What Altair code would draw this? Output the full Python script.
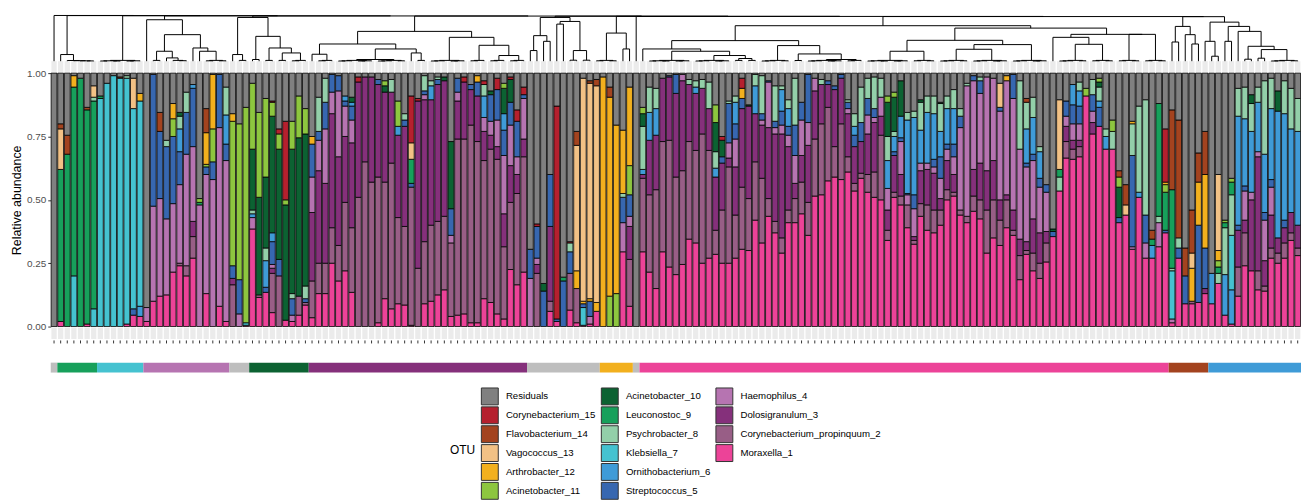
import altair as alt
import pandas as pd

# ---------------- data ----------------
OTUS = ["Moraxella_1", "Corynebacterium_propinquum_2", "Dolosigranulum_3", "Haemophilus_4",
        "Streptococcus_5", "Ornithobacterium_6", "Klebsiella_7", "Psychrobacter_8",
        "Leuconostoc_9", "Acinetobacter_10", "Acinetobacter_11", "Arthrobacter_12",
        "Vagococcus_13", "Flavobacterium_14", "Corynebacterium_15", "Residuals"]
CODES = ["M", "C", "D", "H", "S", "O", "K", "P", "L", "A", "B", "R", "V", "F", "Y"]
COLORS = ["#EC4398", "#985E86", "#85307B", "#B674B1", "#3767B0", "#3F9BD7", "#45C2D0",
          "#93CFA9", "#17A05B", "#0C6232", "#8DC63F", "#F2B01E", "#F2C185", "#A3431F",
          "#B5202E", "#808080"]
CLUSTER_GREY = "#BEBEBE"

# each bar: cumulative top of each OTU, bottom to top (rest = Residuals)
bars_grey_1 = [""]
bars_leuconostoc = ["M.02 L.62 V.78 F.80", "L.68 F.755", "K.20 L.945 R.99", "L.98",
                    "M.01 L.855 F.865", "K.07 L.89 P.905 V.95"]
bars_klebsiella = ["K.90 L.91", "K.96", "K.99", "K.98 F.985", "M.01 K.98 P.99",
                   "M.045 S.07 K.86 V.98", "M.04 O.08 K.89 R.92"]
bars_haemophilus = ["M.02 H.075", "M.10 H.475 S.995", "M.12 H.505 S.77 F.845",
                    "M.125 H.425 S.71 P.735", "M.215 H.485 S.75 B.82 R.88",
                    "M.24 C.25 H.56 S.69 O.78 P.83 A.845", "M.20 C.24 H.68 S.845 P.925",
                    "M.27 C.355 D.415 H.71 S.94 O.955", "H.48 L.49 B.505",
                    "M.13 H.60 S.63 B.64 R.765 F.86", "H.58 S.65 B.78 R.995",
                    "M.08 H.785 S.995", "M.02 H.655 S.72 O.835 P.945"]
bars_grey_2 = ["C.165 D.19 S.24 B.81 R.84", "H.05 S.185 B.80", "M.005 K.015 B.865"]
bars_acinetobacter = ["M.385 H.43 O.445 P.46 A.70 B.96", "M.115 C.125 A.51 B.845",
                      "M.135 S.155 O.26 P.31 A.59 B.90",
                      "M.055 C.21 D.23 H.245 S.335 O.37 A.83 B.885 Y.89",
                      "C.20 S.265 A.70 B.76 Y.78", "M.025 A.48 B.50 Y.81",
                      "M.02 H.045 S.11 P.13 A.70 B.81", "M.045 C.12 A.745 B.91",
                      "M.085 C.095 S.11 P.16 A.76 B.86"]
bars_dolosigranulum = ["M.035 C.18 D.45 H.59 S.72 R.75", "M.13 C.25 D.615 H.735 S.77 P.905",
                       "M.13 C.25 D.565 H.78 S.885 P.98", "M.25 C.39 D.84 H.925 S.995",
                       "M.18 C.32 D.67 H.93 S.99", "M.22 C.49 D.75 H.87 S.89 O.91",
                       "M.135 C.39 D.725 H.815 S.87 O.885 A.905", "C.51 D.965 Y.985",
                       "C.65 D.985", "C.57 D.985", "M.015 C.59 D.955 S.975",
                       "M.11 C.57 D.925 A.95 B.97", "M.07 C.645 D.925 P.975",
                       "M.09 C.43 D.755 O.79 B.89", "M.085 C.395 D.79 S.815 P.84",
                       "M.005 C.55 S.565 L.66 V.725 Y.91", "C.23 D.89 Y.90",
                       "M.09 C.335 D.895 H.915 S.93 P.99", "M.10 C.40 D.895 O.95 P.97",
                       "M.125 C.415 D.955 S.975 P.985", "M.145 C.435 D.97 A.985",
                       "M.04 C.33 H.36 S.465 A.73", "M.045 C.74 D.89 H.925 S.98",
                       "M.05 C.74 D.965 Y.985", "M.015 C.795 D.935 S.955",
                       "M.015 C.73 D.91 S.965 R.99", "M.11 C.655 D.77 H.825 O.91 P.955 Y.97",
                       "M.095 C.70 D.755 H.81 S.915 A.93", "M.05 C.66 D.71 H.815 S.935 Y.98",
                       "M.03 C.315 D.445 H.675 S.775 O.84 A.94 B.96",
                       "M.225 C.49 D.635 H.795 S.885 A.975 Y.985",
                       "M.165 C.525 D.60 H.67 S.81 Y.855", "M.215 C.67 D.74 H.90 S.915 Y.945"]
bars_grey_3 = ["H.19 S.305", "C.21 D.245 H.27 S.395 Y.405", "S.14 A.17", "M.06 C.10 D.395 S.60",
               "M.02 S.03 Y.87", "S.18 L.195", "M.065 C.21 S.295 P.33 Y.335",
               "M.015 C.15 R.22 V.715 F.77", "M.005 K.075 S.09 R.10 V.98",
               "M.01 H.04 S.10 R.11 V.96 F.97", "M.06 R.095 V.95 F.975"]
bars_arthrobacter = ["R.985", "B.12 R.905 F.945", "B.13 R.795", "M.295 H.41 S.51 P.525 R.775",
                     "M.08 C.265 D.395 H.435 S.52 B.635 R.945"]
bars_grey_4 = [""]
bars_moraxella = ["M.295 C.585 D.60 O.62 P.79 A.84 B.865", "M.215 C.52 D.735 O.845 P.945",
                  "M.15 C.54 D.755 O.86 P.94", "M.295 C.73 D.98", "M.235 C.735 D.985 S.99",
                  "M.205 C.59 D.92 S.995", "M.245 C.615 D.97 H.995", "M.345 C.73 D.955 P.975",
                  "M.33 C.695 D.92 O.945 P.97", "M.25 C.76 D.94 P.975", "M.27 C.695 D.86 P.965",
                  "M.285 C.38 D.59 O.625 P.69 A.805 B.875", "M.25 C.46 D.645 S.67 A.735 Y.75",
                  "M.25 C.63 D.665 H.725 S.88 P.89", "M.27 C.44 D.63 H.74 S.80 O.885 P.91",
                  "M.305 C.55 D.86 S.90 R.94 Y.98", "M.30 C.505 D.87 A.875",
                  "M.42 C.65 D.84 O.95 P.995", "M.33 C.585 D.795 H.815 S.84 P.99",
                  "M.435 C.505 D.785 H.965 S.97", "M.37 C.415 D.76 H.785 S.81 P.95",
                  "M.29 C.35 D.76 H.795 S.85 O.935 P.95", "M.41 C.46 D.71 H.755 S.79 O.86 P.895",
                  "M.41 C.505 D.565 H.675 S.795 P.98", "M.445 C.57 D.675 H.815 S.885",
                  "M.36 C.49 D.715 H.805 S.995", "M.515 C.74 D.93 H.98", "M.52 C.80 D.955 P.975",
                  "M.575 C.865 D.955 S.97", "M.59 C.71 D.935 S.95", "M.58 C.80 D.98 S.995",
                  "M.61 C.67 D.84 H.86 S.885 P.895", "M.535 C.565 D.71 S.755 O.79 P.84",
                  "M.585 C.605 D.73 S.805 P.945", "M.53 C.60 D.76 H.835 S.90 P.98",
                  "M.51 C.61 D.805 H.825 S.86 P.985", "M.50 C.755 D.83 H.905 P.98",
                  "M.34 C.38 D.46 H.545 O.655 P.75 A.885 B.91",
                  "M.51 C.53 D.675 S.69 O.75 P.77 A.905 B.925",
                  "M.48 C.515 D.60 H.73 S.745 O.83 A.97", "M.39 C.48 H.52 S.525 O.815 P.845",
                  "M.325 C.34 D.355 H.465 S.52 O.825 P.85",
                  "M.435 C.485 D.615 H.645 O.775 P.885 A.895",
                  "M.38 C.48 D.62 H.645 O.845 P.91", "M.37 C.46 D.605 H.63 S.66 O.84 P.91",
                  "M.40 C.46 D.505 H.585 S.67 O.77 P.88 A.885",
                  "M.50 C.54 D.655 H.70 S.72 O.86 P.91", "M.515 C.53 D.60 H.67 S.72 O.86 P.935",
                  "M.44 C.46 H.785 S.83 P.86", "M.41 C.435 H.95 P.96",
                  "M.455 C.515 D.62 H.97 S.99", "M.425 C.50 D.645 H.92 S.97 P.985",
                  "M.29 C.46 D.615 H.985", "M.35 C.50 D.655 H.98", "M.32 C.42 D.50 H.85 S.865 V.96",
                  "M.39 C.50 D.52 H.97 R.99", "M.36 C.38 D.46 H.90 S.995",
                  "M.185 C.28 D.345 H.70 P.97", "M.285 C.30 D.335 H.63 S.645 O.78 P.885 F.90",
                  "M.22 C.29 D.425 H.655 S.68 O.825 P.905", "M.19 C.25 D.37 H.55 S.585 O.69 P.71",
                  "M.255 C.33 D.375 H.53 S.56", "M.355 S.375 A.385", "M.535 P.59 L.62 V.895",
                  "M.665 C.73 D.79 H.83 S.89", "M.66 C.70 D.735 H.80 S.875 O.955",
                  "M.67 C.71 D.735 H.80 S.87 O.93 P.965", "M.91 B.94",
                  "M.76 D.805 H.85 S.915 P.975", "M.79 S.865 O.89 P.945 A.965 B.98",
                  "M.70 O.75 P.78", "M.70 P.77 B.815", "M.41 S.43 A.55 B.59 F.615",
                  "M.44 V.48 F.56", "M.305 H.315 S.675 P.80 R.81", "M.51 O.53 P.87",
                  "M.27 H.33 S.44 P.895", "M.27 O.32 L.345 F.38", "M.315 H.41 P.435 L.88",
                  "M.37 S.38 L.53 B.56 R.57 Y.78"]
bars_flavobacterium = ["M.015 H.03 K.22 P.23 L.54 F.855", "M.27 S.31 P.35 F.815",
                       "M.09 S.20 F.31", "M.09 C.10 R.23 V.29 F.46", "M.095 S.40 R.57 F.685",
                       "M.13 D.15 S.31 R.60 F.77"]
bars_ornithobacterium = ["M.09 O.21", "M.17 P.21 L.235 B.26 R.30 V.60", "M.045 O.205 P.39 L.41 B.42",
                         "M.01 O.145 K.36 P.52 L.57 B.585", "M.12 C.235 D.38 S.40 O.83 P.94",
                         "M.24 C.37 D.42 H.535 S.555 O.82 P.945", "M.22 D.50 H.53 O.77 P.88 A.915",
                         "M.145 C.22 D.67 H.69 O.885 P.945", "M.14 C.16 D.26 H.42 S.45 O.68 P.97",
                         "M.27 C.31 D.44 H.55 S.58 O.86 P.98", "M.25 C.29 D.35 O.85 A.93",
                         "M.27 C.33 D.39 S.42 O.84 P.97", "M.34 C.37 D.45 O.78 P.94",
                         "M.28 C.31 D.40 O.77 P.90"]

CLUSTERS = [("none", bars_grey_1), ("Leuconostoc_9", bars_leuconostoc),
            ("Klebsiella_7", bars_klebsiella), ("Haemophilus_4", bars_haemophilus),
            ("none", bars_grey_2), ("Acinetobacter_10", bars_acinetobacter),
            ("Dolosigranulum_3", bars_dolosigranulum), ("none", bars_grey_3),
            ("Arthrobacter_12", bars_arthrobacter), ("none", bars_grey_4),
            ("Moraxella_1", bars_moraxella), ("Flavobacterium_14", bars_flavobacterium),
            ("Ornithobacterium_6", bars_ornithobacterium)]

# dendrogram: "(left,right)height", "a-b" = tight group of leaves a..b
dendro_groups = [
    "0",
    "(1,(2,(3,(4,(5,6)0.3)0.4)0.5)0.7)6.7",
    "7-13",
    "(14,(((15,16)0.8,(17,(18,(19,20)0.5)0.8)3.3)10,(21,(22,23-26)10)13.3)26.7)41.7",
    "((27,(28,29)0.8)6.7,((30,31)1.7,((32,33)0.8,((34,35)0.8,36-38)8.3)13.3)25)44",
    "(((39,40-42)7,((43-48,49-53)1.7,(54,(55,56)0.8)8.3)12.3)17.3,"
    "(57-62,(63-65,(66-68,69-71)5.7)16)24)30",
    "(((72,73)10.7,(74,75)20)25.7,((76,77)37.3,((78,79)1,(80,81)1)10.7)40)44",
    "(82-85,(86,87)12.3)28.3",
    "88",
    "(((89,(90-96,(97-102,((103,104)0.8,(105,106)0.8)2.7)5.7)10)12.3,"
    "(107-111,((112,113)0.7,(114-119,120-122)1.7)7.3)15.7)20.7,"
    "(((123-129,130-133)10,((134-138,139-144)12,145-150)16.7)21,"
    "((151,(152-156,157-160)17)24,(161-164,165-168)27)27)33.3)35.7",
    "((169,170)19.3,(171,(172,173)17.3)26.7)35",
    "((174,(175,176)5)20,((177,178)20,(179,((180,181)2,((182,183)3,184-188)11.7)15)30)35)39.3",
]
dendro_join_heights = [46.0, 45.88, 45.76, 45.64, 45.52, 45.4, 45.28, 45.16, 45.04, 44.92, 44.8]
ROOT_H = 46

# ---------------- build tables ----------------
code_to_otu = dict(zip(CODES, OTUS))
rows, clus = [], []
k = 0
for cname, blist in CLUSTERS:
    for b in blist:
        prev = 0.0
        for tok in b.split():
            top = float(tok[1:])
            rows.append({"k": k, "otu": code_to_otu[tok[0]], "y0": prev, "y1": top})
            prev = top
        rows.append({"k": k, "otu": "Residuals", "y0": prev, "y1": 1.0})
        clus.append({"k": k, "cluster": cname})
        k += 1
N = k
df_bars = pd.DataFrame(rows)
df_samples = pd.DataFrame(clus)

runs = []
for cname, blist in CLUSTERS:
    start = runs[-1]["end"] if runs else 0
    runs.append({"cluster": cname, "start": start, "end": start + len(blist)})
df_runs = pd.DataFrame(runs)

tree_str = dendro_groups[-1]
for g, h in zip(reversed(dendro_groups[:-1]), reversed(dendro_join_heights)):
    tree_str = "(" + g + "," + tree_str + ")" + str(h)


def parse(s):
    pos = 0

    def flat(a, b, h):
        if a == b:
            return ("l", a)
        m = (a + b) // 2
        return ("n", flat(a, m, h * 0.5), flat(m + 1, b, h * 0.5), h)

    def node():
        nonlocal pos
        if s[pos] == "(":
            pos += 1
            left = node()
            pos += 1  # comma
            right = node()
            pos += 1  # ')'
            j = pos
            while pos < len(s) and (s[pos].isdigit() or s[pos] == "."):
                pos += 1
            return ("n", left, right, float(s[j:pos]))
        j = pos
        while pos < len(s) and (s[pos].isdigit() or s[pos] == "-"):
            pos += 1
        tok = s[j:pos]
        if "-" in tok:
            a, b = map(int, tok.split("-"))
            return flat(a, b, 0.8)
        return ("l", int(tok))
    return node()


segs = []


def walk(nd):
    if nd[0] == "l":
        return nd[1] + 0.5, 0.0
    x1, h1 = walk(nd[1])
    x2, h2 = walk(nd[2])
    h = nd[3]
    segs.append({"x": x1, "x2": x2, "y": h, "y2": h})
    segs.append({"x": x1, "x2": x1, "y": h1, "y2": h})
    segs.append({"x": x2, "x2": x2, "y": h2, "y2": h})
    return (x1 + x2) / 2, h


walk(parse(tree_str))
df_dendro = pd.DataFrame(segs)

LEG_ORDER = list(reversed(OTUS))
df_leg = pd.DataFrame({"otu": LEG_ORDER, "i": range(len(LEG_ORDER))})
LEG_COL_X = [433.3, 554.0, 669.3]

# ---------------- chart ----------------
W, H = 1258, 492
FONT = "Liberation Sans"
xsc = alt.Scale(domain=[0, N], nice=False, zero=False)

bars = alt.Chart(df_bars).transform_calculate(
    xa="datum.k + 0.06", xb="datum.k + 0.94"
).mark_rect(stroke="black", strokeWidth=0.8).encode(
    x=alt.X("xa:Q", scale=xsc, axis=None),
    x2="xb:Q",
    y=alt.Y("y0:Q", scale=alt.Scale(domain=[0, 1], range=[319, 64]),
            axis=alt.Axis(values=[0, 0.25, 0.5, 0.75, 1], format=".2f", title="Relative abundance",
                          labelFont=FONT, labelFontSize=10, labelColor="#4D4D4D",
                          tickColor="#333333", tickSize=3, labelPadding=2, domain=False, grid=False,
                          titleFont=FONT, titleFontSize=12.5, titleFontWeight="normal",
                          titleColor="black", titlePadding=3)),
    y2="y1:Q",
    color=alt.Color("otu:N", scale=alt.Scale(domain=OTUS, range=COLORS), legend=None),
)

dendro = alt.Chart(df_dendro).mark_rule(color="black", strokeWidth=1).encode(
    x=alt.X("x:Q", scale=xsc, axis=None), x2="x2:Q",
    y=alt.Y("y:Q", scale=alt.Scale(domain=[0, ROOT_H], range=[52, 6]), axis=None), y2="y2:Q",
)

strip_top = alt.Chart(df_samples).transform_calculate(
    xa="datum.k + 0.1", xb="datum.k + 0.9"
).mark_rect(color="#EBEBEB").encode(
    x=alt.X("xa:Q", scale=xsc, axis=None), x2="xb:Q", y=alt.value(52), y2=alt.value(62.7))

strip_bot = alt.Chart(df_samples).transform_calculate(
    xa="datum.k + 0.1", xb="datum.k + 0.9"
).mark_rect(color="#EBEBEB").encode(
    x=alt.X("xa:Q", scale=xsc, axis=None), x2="xb:Q", y=alt.value(320.5), y2=alt.value(331.5))

ticks = alt.Chart(df_samples).transform_calculate(xc="datum.k + 0.5").mark_rule(
    color="#333333", strokeWidth=1).encode(
    x=alt.X("xc:Q", scale=xsc, axis=None), y=alt.value(333), y2=alt.value(336))

cl_strip = alt.Chart(df_runs).mark_rect().encode(
    x=alt.X("start:Q", scale=xsc, axis=None), x2="end:Q", y=alt.value(355.3), y2=alt.value(365.3),
    color=alt.Color("cluster:N", scale=alt.Scale(domain=OTUS[:-1] + ["none"],
                                                 range=COLORS[:-1] + [CLUSTER_GREY]), legend=None),
)

leg_base = alt.Chart(df_leg).transform_calculate(
    col="floor(datum.i / 6)", row="datum.i % 6",
).transform_calculate(
    kx0=f"[{LEG_COL_X[0]}, {LEG_COL_X[1]}, {LEG_COL_X[2]}][datum.col]",
).transform_calculate(
    kx1="datum.kx0 + 17", tx="datum.kx0 + 24.7",
    ky0="389.3 + 19 * datum.row - 8.5", ky1="389.3 + 19 * datum.row + 8.5",
    ty="389.3 + 19 * datum.row",
)
leg_keys = leg_base.mark_rect(stroke="#333333", strokeWidth=1).encode(
    x=alt.X("kx0:Q", scale=None, axis=None), x2="kx1:Q",
    y=alt.Y("ky0:Q", scale=None, axis=None), y2="ky1:Q",
    color=alt.Color("otu:N", scale=alt.Scale(domain=OTUS, range=COLORS), legend=None),
)
leg_text = leg_base.mark_text(align="left", baseline="middle", font=FONT, fontSize=9.7,
                              color="black").encode(
    x=alt.X("tx:Q", scale=None, axis=None), y=alt.Y("ty:Q", scale=None, axis=None), text="otu:N")
leg_title = alt.Chart(pd.DataFrame({"t": ["OTU"]})).mark_text(
    align="left", baseline="middle", font=FONT, fontSize=12, color="black").encode(
    x=alt.value(401.7), y=alt.value(443), text="t:N")

chart = alt.layer(strip_top, strip_bot, ticks, cl_strip, dendro, bars, leg_keys, leg_text,
                  leg_title).resolve_scale(
    x="independent", y="independent", color="independent"
).properties(
    width=W, height=H, padding={"left": 43, "top": 0, "right": 0, "bottom": 0},
    autosize=alt.AutoSizeParams(type="none"), background="white",
).configure_view(stroke=None)

chart.save("out.html", embed_options={"renderer": "svg", "actions": False})
